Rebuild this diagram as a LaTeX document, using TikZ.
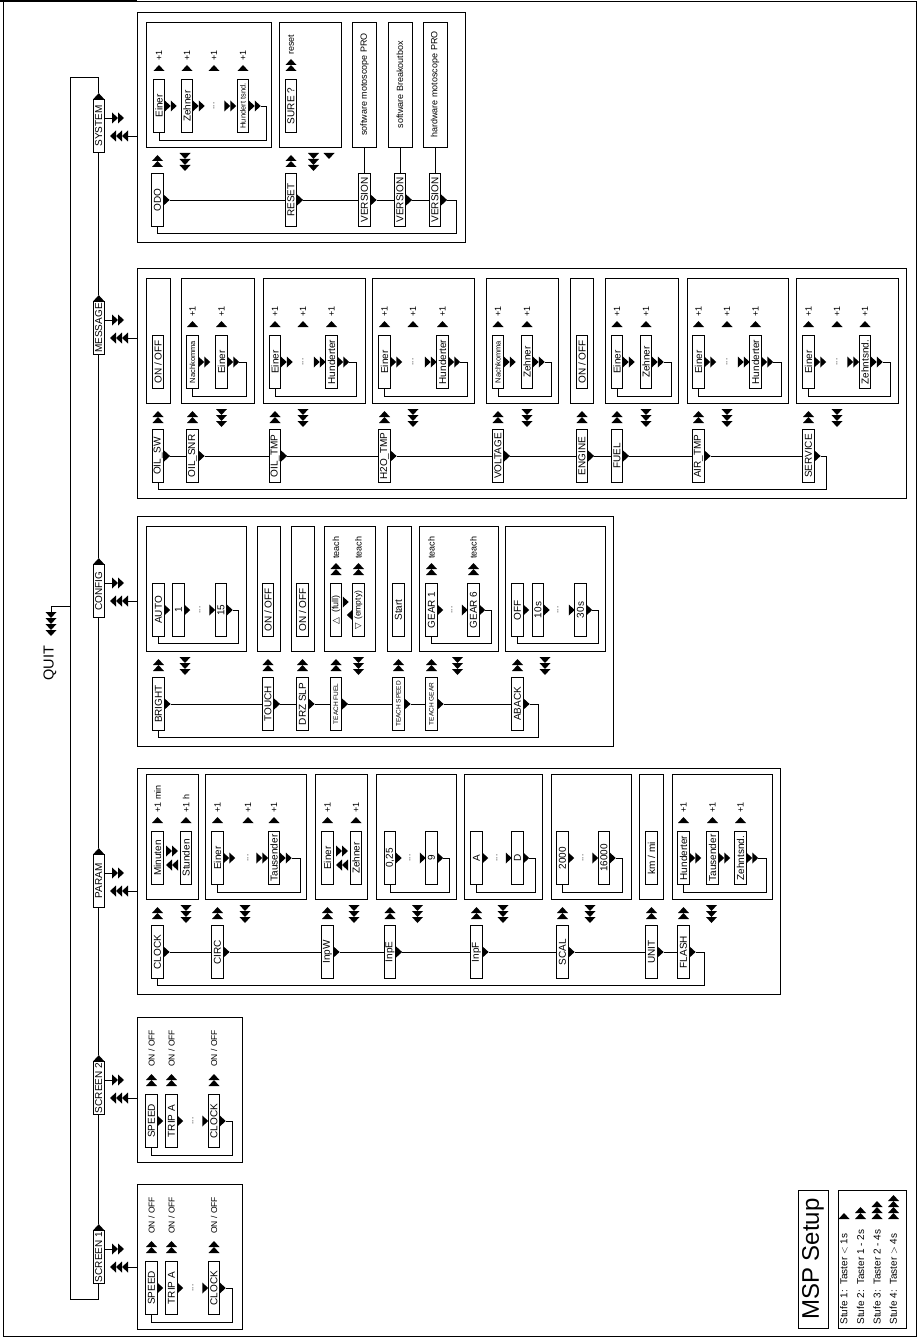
\documentclass[tikz,border=0pt]{standalone}
\usepackage{fontspec}
\setmainfont{Liberation Sans}
\newfontfamily\symfont{DejaVu Sans}
\usetikzlibrary{calc}

% triangle stacks: base point, count
\newcommand{\triup}[3]{\pic[rotate=90] at (#1,#2) {tri=#3};}
\newcommand{\tridn}[3]{\pic[rotate=-90] at (#1,#2) {tri=#3};}
\newcommand{\trirt}[3]{\pic at (#1,#2) {tri=#3};}
\newcommand{\trilt}[3]{\pic[rotate=180] at (#1,#2) {tri=#3};}
% top level node in/out, group arrows, increment labels
\newcommand{\topio}[1]{\draw (104.5,#1-8) -- (112,#1-8); \trirt{112}{#1-8}{2}
  \draw (137,#1+10) -- (128,#1+10); \trilt{128}{#1+10}{3}}
\newcommand{\menuin}[2]{\triup{#1}{#2+155}{2}}
\newcommand{\menuout}[2]{\tridn{#1}{#2+141}{3}}
\newcommand{\incr}[4]{\triup{#1}{#2+59}{#3}\node[lbl] at (#1,#2+55-6*#3) {#4};}

\begin{document}
\begin{tikzpicture}[
 x=1pt, y=-1pt, line width=0.7pt,
 box/.style={draw,rotate=90,minimum width=53,minimum height=11.5,inner sep=0pt,font=\fontsize{10}{11}\selectfont},
 tbox/.style={box,font=\fontsize{7.5}{8}\selectfont},
 vbox/.style={draw,rotate=90,minimum width=125,minimum height=24,inner sep=0pt,font=\fontsize{9}{10}\selectfont},
 lbl/.style={rotate=90,anchor=west,inner sep=0pt,font=\fontsize{9}{10}\selectfont},
 dots/.style={rotate=90,inner sep=0pt,font=\fontsize{8}{9}\selectfont},
 grp/.style={draw,line width=0.9pt},
 sub/.style={draw,line width=0.8pt},
 pics/tri/.style={code={\foreach \k in {1,...,#1}{\fill ({(\k-1)*6},-5.5) -- ({\k*6},0) -- ({(\k-1)*6},5.5) -- cycle;}}}
]
\useasboundingbox (0,0) rectangle (918,1337);
\draw (3.3,1) rectangle (916.7,1336.5);
\draw[line width=2.5pt] (0,1) -- (137,1);

% top level chain
\node[box] (sys) at (98.75,126) {SYSTEM};
\node[box] (msg) at (98.75,328) {MESSAGE};
\node[box] (cfg) at (98.75,591) {CONFIG};
\node[box] (par) at (98.75,881) {PARAM};
\node[box] (scr2) at (98.75,1088) {SCREEN 2};
\node[box] (scr1) at (98.75,1257) {SCREEN 1};
\foreach \a/\b in {scr1/scr2,scr2/par,par/cfg,cfg/msg,msg/sys}{
  \pic[rotate=90] at (\a.east) {tri=1};
  \draw ($(\a.east)+(0,-6)$) -- (\b.west);}
\pic[rotate=90] at (sys.east) {tri=1};
\draw ($(sys.east)+(0,-6)$) |- (70,77) |- (98.75,1299) -- (scr1.west);
\foreach \c in {126,328,591,881,1088,1257} {\topio{\c}}

% quit
\node[rotate=90,inner sep=0pt,font=\fontsize{14.5}{16}\selectfont] (quit) at (50,663) {QUIT};
\tridn{51}{612}{4}
\draw (51,612) -- (51,606) -- (70,606);

% SYSTEM
\draw[grp] (137,12) rectangle (465,242);
\draw[sub] (146,22) rectangle (271,147);
\draw[sub] (279,22) rectangle (341,147);
\node[vbox] (swmsp) at (364.5,84.5) {software motoscope PRO};
\node[vbox] (swbob) at (400,84.5) {software Breakoutbox};
\node[vbox] (hwmsp) at (435,84.5) {hardware motoscope PRO};
\node[box] (sysein) at (159,106) {Einer};
\node[box] (syszeh) at (187,106) {Zehner};
\node[dots] at (214,106) {...};
\node[tbox] (syshun) at (243,106) {Hundert tsnd.};
\foreach \p in {164.75,192.75,224.25,248.75} {\trirt{\p}{106}{2}}
\draw (260.75,106) -| (266,140) -| (sysein.west);
\foreach \c in {159,187,214,243} {\incr{\c}{12}{1}{+1}}
\node[box] (syssure) at (291,106) {SURE ?};
\incr{291}{12}{2}{reset}
\menuin{157.5}{12} \menuout{185}{12}
\menuin{291}{12} \menuout{313.5}{12} \tridn{329}{153}{1}
\node[box] (odo) at (157.5,200) {ODO};
\node[box] (reset) at (291,200) {RESET};
\node[box] (ver1) at (364.5,200) {VERSION};
\node[box] (ver2) at (400,200) {VERSION};
\node[box] (ver3) at (435,200) {VERSION};
\draw (ver1) -- (swmsp);
\draw (ver2) -- (swbob);
\draw (ver3) -- (hwmsp);
\foreach \n in {odo,reset,ver1,ver2,ver3} {\pic at (\n.south) {tri=1};}
\foreach \a/\b in {odo/reset,reset/ver1,ver1/ver2,ver2/ver3} {\draw ($(\a.south)+(6,0)$) -- (\b.north);}
\draw ($(ver3.south)+(6,0)$) -| (456,233) -| (odo.west);

% MESSAGE
\draw[grp] (137,268) rectangle (906,498);
\foreach \l/\r in {146/170,181/254,263/365,372/474,486/558,570/593,605/678,687/788,796/898}
  {\draw[sub] (\l,278) rectangle (\r,403);}
\node[box] at (158,362) {ON / OFF};
\node[tbox] (snrnk) at (192.5,362) {Nachkomma};
\node[box] (snrein) at (221.5,362) {Einer};
\node[box] (otein) at (275,362) {Einer};
\node[dots] at (303,362) {...};
\node[box] (othun) at (331.5,362) {Hunderter};
\node[box] (htein) at (384.5,362) {Einer};
\node[dots] at (413,362) {...};
\node[box] (hthun) at (442.5,362) {Hunderter};
\node[tbox] (vonk) at (498,362) {Nachkomma};
\node[box] (vozeh) at (527,362) {Zehner};
\node[box] at (582,362) {ON / OFF};
\node[box] (fuein) at (617,362) {Einer};
\node[box] (fuzeh) at (646,362) {Zehner};
\node[box] (atein) at (698.5,362) {Einer};
\node[dots] at (727,362) {...};
\node[box] (athun) at (755.5,362) {Hunderter};
\node[box] (svein) at (808.5,362) {Einer};
\node[dots] at (837,362) {...};
\node[box] (svzeh) at (865,362) {Zehntsnd.};
\foreach \p in {198.25,227.25,280.75,313.75,337.25,390.25,424.75,448.25,503.75,532.75,622.75,651.75,704.25,737.75,761.25,814.25,847.25,870.75}
  {\trirt{\p}{362}{2}}
\draw (239.25,362) -| (246,396) -| (snrnk.west);
\draw (349.25,362) -| (356,396) -| (otein.west);
\draw (460.25,362) -| (467,396) -| (htein.west);
\draw (544.75,362) -| (551,396) -| (vonk.west);
\draw (663.75,362) -| (671,396) -| (fuein.west);
\draw (773.25,362) -| (781,396) -| (atein.west);
\draw (882.75,362) -| (890,396) -| (svein.west);
\foreach \c in {192.5,221.5,275,303,331.5,384.5,413,442.5,498,527,617,646,698.5,727,755.5,808.5,837,865}
  {\incr{\c}{268}{1}{+1}}
\foreach \c in {158,192.5,275,384.5,498,582,617,698.5,808.5} {\menuin{\c}{268}}
\foreach \c in {221.5,303,413,527,646,727,837} {\menuout{\c}{268}}
\node[box] (oilsw) at (158,456) {OIL\_SW};
\node[box] (oilsnr) at (192.5,456) {OIL\_SNR};
\node[box] (oiltmp) at (275,456) {OIL\_TMP};
\node[box] (h2otmp) at (384.5,456) {H2O\_TMP};
\node[box] (voltage) at (498,456) {VOLTAGE};
\node[box] (engine) at (582,456) {ENGINE};
\node[box] (fuel) at (617,456) {FUEL};
\node[box] (airtmp) at (698.5,456) {AIR\_TMP};
\node[box] (service) at (808.5,456) {SERVICE};
\foreach \n in {oilsw,oilsnr,oiltmp,h2otmp,voltage,engine,fuel,airtmp,service} {\pic at (\n.south) {tri=1};}
\foreach \a/\b in {oilsw/oilsnr,oilsnr/oiltmp,oiltmp/h2otmp,h2otmp/voltage,voltage/engine,engine/fuel,fuel/airtmp,airtmp/service}
  {\draw ($(\a.south)+(6,0)$) -- (\b.north);}
\draw ($(service.south)+(6,0)$) -| (826,489) -| (oilsw.west);

% CONFIG
\draw[grp] (137,516) rectangle (613,746);
\foreach \l/\r in {146/246,257/280,291/314,324/375,387/411,419/498,505/605}
  {\draw[sub] (\l,526) rectangle (\r,651);}
\node[box] (brauto) at (158.5,610) {AUTO};
\node[box] (br1) at (178.5,610) {1};
\node[dots] at (200,610) {...};
\node[box] (br15) at (221,610) {15};
\foreach \p in {164.25,184.25,209.25,226.75} {\trirt{\p}{610}{1}}
\draw (232.75,610) -| (238,643) -| (brauto.west);
\node[box] at (268,610) {ON / OFF};
\node[box] at (302.5,610) {ON / OFF};
\node[box,font=\fontsize{9}{10}\selectfont] (tffull) at (336,610) {{\symfont △}\hspace{5pt}(full)};
\node[box,font=\fontsize{8.5}{10}\selectfont] (tfempty) at (358.5,610) {{\symfont ▽}\hspace{3pt}(empty)};
\trirt{342.75}{602}{1} \trilt{352.75}{615}{1}
\incr{336}{516}{2}{teach} \incr{358.5}{516}{2}{teach}
\node[box] at (398.5,610) {Start};
\node[box] (gear1) at (431.5,610) {GEAR 1};
\node[dots] at (452,610) {...};
\node[box] (gear6) at (473.5,610) {GEAR 6};
\foreach \p in {437.25,461.75,479.25} {\trirt{\p}{610}{1}}
\draw (485.25,610) -| (491,643) -| (gear1.west);
\incr{431.5}{516}{2}{teach} \incr{473.5}{516}{2}{teach}
\node[box] (aboff) at (517.5,610) {OFF};
\node[box] (ab10) at (538,610) {10s};
\node[dots] at (558,610) {...};
\node[box] (ab30) at (580.5,610) {30s};
\foreach \p in {523.25,543.75,568.75,586.25} {\trirt{\p}{610}{1}}
\draw (592.25,610) -| (598,643) -| (aboff.west);
\foreach \c in {158.5,268,302.5,336,398.5,431.5,517.5} {\menuin{\c}{516}}
\foreach \c in {185,358.5,457.5,545} {\menuout{\c}{516}}
\node[box] (bright) at (158.5,704) {BRIGHT};
\node[box] (touch) at (268,704) {TOUCH};
\node[box] (drzslp) at (302.5,704) {DRZ SLP};
\node[tbox,font=\fontsize{6.5}{7}\selectfont] (tfuel) at (336,704) {TEACH FUEL};
\node[tbox,font=\fontsize{6.5}{7}\selectfont] (tspeed) at (398.5,704) {TEACH SPEED};
\node[tbox,font=\fontsize{6.5}{7}\selectfont] (tgear) at (431.5,704) {TEACH GEAR};
\node[box] (aback) at (517.5,704) {ABACK};
\foreach \n in {bright,touch,drzslp,tfuel,tspeed,tgear,aback} {\pic at (\n.south) {tri=1};}
\foreach \a/\b in {bright/touch,touch/drzslp,drzslp/tfuel,tfuel/tspeed,tspeed/tgear,tgear/aback}
  {\draw ($(\a.south)+(6,0)$) -- (\b.north);}
\draw ($(aback.south)+(6,0)$) -| (538,737) -| (bright.west);

% PARAM
\draw[grp] (137,768) rectangle (780,994);
\foreach \l/\r in {146/198,205/306,315/367,376/456,464/542,551/631,639/663,672/772}
  {\draw[sub] (\l,774) rectangle (\r,899);}
\node[box] (minu) at (157.5,858) {Minuten};
\node[box] (stun) at (186,858) {Stunden};
\trirt{166}{851}{2} \trilt{178}{865}{2}
\incr{157.5}{764}{1}{+1 min} \incr{186}{764}{1}{+1 h}
\node[box] (ciein) at (217.5,858) {Einer};
\node[dots] at (248,858) {...};
\node[box] (citau) at (274,858) {Tausender};
\foreach \p in {223.25,256.25,279.75} {\trirt{\p}{858}{2}}
\draw (291.75,858) -| (300,892) -| (ciein.west);
\foreach \c in {217.5,248,274} {\incr{\c}{764}{1}{+1}}
\node[box] (iwein) at (327.5,858) {Einer};
\node[box] (iwzeh) at (356,858) {Zehner};
\trirt{336}{851}{2} \trilt{348}{865}{2}
\foreach \c in {327.5,356} {\incr{\c}{764}{1}{+1}}
\node[box] (ie025) at (390,858) {0,25};
\node[dots] at (410,858) {...};
\node[box] (ie9) at (431.5,858) {9};
\foreach \p in {395.75,419.75,437.25} {\trirt{\p}{858}{1}}
\draw (443.25,858) -| (449,892) -| (ie025.west);
\node[box] (ifa) at (476.5,858) {A};
\node[dots] at (497,858) {...};
\node[box] (ifd) at (517.5,858) {D};
\foreach \p in {482.25,505.75,523.25} {\trirt{\p}{858}{1}}
\draw (529.25,858) -| (535,892) -| (ifa.west);
\node[box] (sc2) at (562.5,858) {2000};
\node[dots] at (583,858) {...};
\node[box] (sc16) at (604,858) {16000};
\foreach \p in {568.25,592.25,609.75} {\trirt{\p}{858}{1}}
\draw (615.75,858) -| (622,892) -| (sc2.west);
\node[box] at (651.5,858) {km / mi};
\node[box] (flhun) at (683.5,858) {Hunderter};
\node[box] (fltau) at (712.5,858) {Tausender};
\node[box] (flzeh) at (740.5,858) {Zehntsnd.};
\foreach \p in {689.25,718.25,746.25} {\trirt{\p}{858}{2}}
\draw (758.25,858) -| (766,892) -| (flhun.west);
\foreach \c in {683.5,712.5,740.5} {\incr{\c}{764}{1}{+1}}
\foreach \c in {157.5,217.5,327.5,390,476.5,562.5,651.5,683.5} {\menuin{\c}{764}}
\foreach \c in {186,245,354,417.5,503,590,711.5} {\menuout{\c}{764}}
\node[box] (clock) at (157.5,952) {CLOCK};
\node[box] (circ) at (217.5,952) {CIRC};
\node[box] (inpw) at (327.5,952) {InpW};
\node[box] (inpe) at (390,952) {InpE};
\node[box] (inpf) at (476.5,952) {InpF};
\node[box] (scal) at (562.5,952) {SCAL};
\node[box] (unit) at (651.5,952) {UNIT};
\node[box] (flash) at (683.5,952) {FLASH};
\foreach \n in {clock,circ,inpw,inpe,inpf,scal,unit,flash} {\pic at (\n.south) {tri=1};}
\foreach \a/\b in {clock/circ,circ/inpw,inpw/inpe,inpe/inpf,inpf/scal,scal/unit,unit/flash}
  {\draw ($(\a.south)+(6,0)$) -- (\b.north);}
\draw ($(flash.south)+(6,0)$) -| (704,985) -| (clock.west);

% SCREEN 2 and SCREEN 1
\foreach \t/\s in {1017/sb,1184/sa}{
  \draw[grp] (137,\t) rectangle (242,\t+145);
  \node[box] (\s sp) at (151.5,\t+104) {SPEED};
  \node[box] (\s tr) at (171.5,\t+104) {TRIP A};
  \node[dots] at (193,\t+104) {...};
  \node[box] (\s cl) at (214,\t+104) {CLOCK};
  \foreach \p in {157.25,177.25,202.25,219.75} {\trirt{\p}{\t+104}{1}}
  \draw (225.75,\t+104) -| (232,\t+138) -| (\s sp.west);
  \foreach \c in {151.5,171.5,214} {\triup{\c}{\t+69}{2}
    \node[lbl,font=\fontsize{8.5}{9}\selectfont] at (\c,\t+50) {ON / OFF};}
}

% legend
\node[draw,rotate=90,minimum width=138,minimum height=30,inner sep=0pt,font=\fontsize{24}{26}\selectfont] (msp) at (813,1259) {MSP Setup};
\draw (838,1190) rectangle (906,1328);
\foreach \i/\t in {1/{Taster $<$ 1s},2/{Taster 1 - 2s},3/{Taster 2 - 4s},4/{Taster $>$ 4s}}{
  \node[lbl,font=\fontsize{10}{11}\selectfont] at (827.5+\i*16.5,1325) {Stufe \i:\ \ \t};
  \triup{827.5+\i*16.5}{1219}{\i}}
\end{tikzpicture}
\end{document}
